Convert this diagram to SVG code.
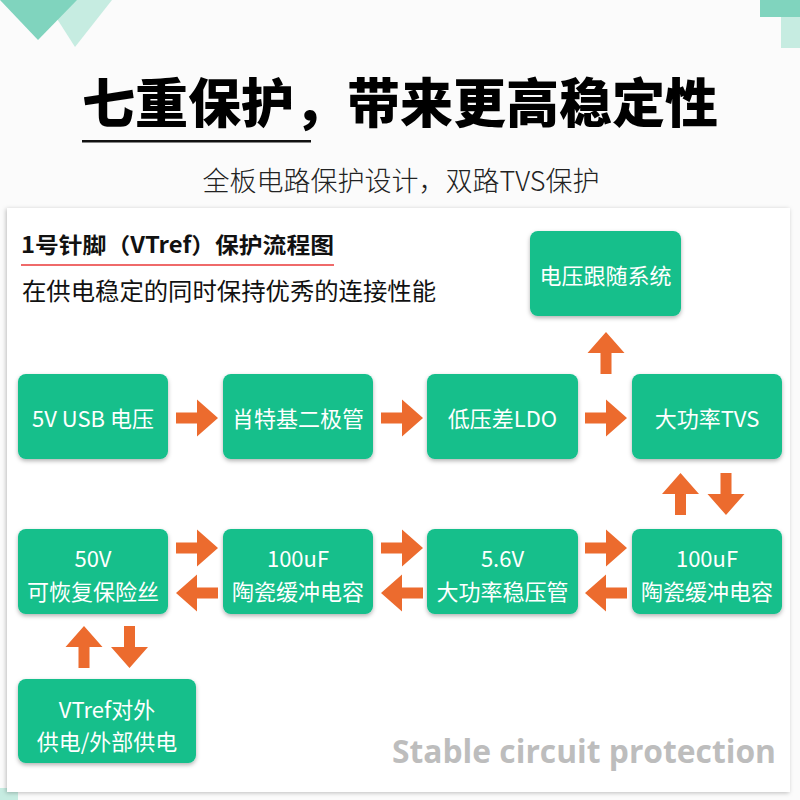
<svg xmlns="http://www.w3.org/2000/svg" width="800" height="800" viewBox="0 0 800 800">
<defs>
<style>
.node rect{fill:#12bf8b;filter:url(#sh)}
.node text{fill:#fff;font-family:"Noto Sans CJK SC","Open Sans",sans-serif;font-size:22px;text-anchor:middle;dominant-baseline:central}
.arr{fill:#ec6b2e}
</style>
<filter id="sh" x="-10%" y="-10%" width="120%" height="130%"><feDropShadow dx="0" dy="2" stdDeviation="2" flood-color="#000" flood-opacity="0.3"/></filter>
<filter id="psh" x="-5%" y="-5%" width="110%" height="110%"><feDropShadow dx="-1" dy="1" stdDeviation="2" flood-color="#000" flood-opacity="0.25"/></filter>
<path id="ar" d="M-21,-5.5H0V-18.5L21,0L0,18.5V5.5H-21Z"/>
</defs>
<rect width="800" height="800" fill="#fbfbfb"/>
<polygon points="45,0 112,0 75,47" fill="#c6ece1"/>
<polygon points="0,0 77,0 38,40" fill="#80d4be"/>
<rect x="760" y="0" width="40" height="17" fill="#80d4be"/>
<rect x="781" y="17" width="19" height="31" fill="#c6ece1"/>
<rect x="0" y="788" width="18" height="12" fill="#c6ece1"/>
<text x="400" y="100" font-family="Noto Sans CJK SC,sans-serif" font-size="53" font-weight="900" text-anchor="middle" dominant-baseline="central" fill="#000">七重保护，带来更高稳定性</text>
<rect x="82" y="140" width="229" height="2.5" fill="#111"/>
<text x="401" y="179" font-family="Noto Sans CJK SC,sans-serif" font-size="27" font-weight="300" text-anchor="middle" dominant-baseline="central" fill="#222">全板电路保护设计，双路TVS保护</text>
<rect x="7" y="208" width="783" height="584" fill="#fff" filter="url(#psh)"/>
<text x="21" y="243" font-family="Noto Sans CJK SC,sans-serif" font-size="22" font-weight="700" dominant-baseline="central" fill="#111" textLength="313" lengthAdjust="spacingAndGlyphs">1号针脚（VTref）保护流程图</text>
<rect x="21" y="264" width="313" height="2" fill="#ef6a6a"/>
<text x="22" y="289" font-family="Noto Sans CJK SC,sans-serif" font-size="24" dominant-baseline="central" fill="#111" textLength="414" lengthAdjust="spacingAndGlyphs">在供电稳定的同时保持优秀的连接性能</text>
<g id="connectors">
<use href="#ar" class="arr" transform="translate(197,418)"/>
<use href="#ar" class="arr" transform="translate(402,418)"/>
<use href="#ar" class="arr" transform="translate(606,418)"/>
<use href="#ar" class="arr" transform="translate(606,353) rotate(-90)"/>
<use href="#ar" class="arr" transform="translate(680.5,494) rotate(-90)"/>
<use href="#ar" class="arr" transform="translate(726,494) rotate(90)"/>
<use href="#ar" class="arr" transform="translate(197,548)"/>
<use href="#ar" class="arr" transform="translate(402,548)"/>
<use href="#ar" class="arr" transform="translate(606,548)"/>
<use href="#ar" class="arr" transform="translate(197,593) rotate(180)"/>
<use href="#ar" class="arr" transform="translate(402,593) rotate(180)"/>
<use href="#ar" class="arr" transform="translate(606,593) rotate(180)"/>
<use href="#ar" class="arr" transform="translate(84,647) rotate(-90)"/>
<use href="#ar" class="arr" transform="translate(129.5,647) rotate(90)"/>
</g>
<g id="n-follow" class="node"><rect x="530" y="231" width="151" height="85" rx="8"/><text x="605.5" y="274">电压跟随系统</text></g>
<g id="n-usb" class="node"><rect x="18" y="374" width="150" height="85" rx="8"/><text x="93" y="417">5V USB 电压</text></g>
<g id="n-schottky" class="node"><rect x="223" y="374" width="150" height="85" rx="8"/><text x="298" y="417">肖特基二极管</text></g>
<g id="n-ldo" class="node"><rect x="427" y="374" width="151" height="85" rx="8"/><text x="502.5" y="417">低压差LDO</text></g>
<g id="n-tvs" class="node"><rect x="632" y="374" width="150" height="85" rx="8"/><text x="707" y="417">大功率TVS</text></g>
<g id="n-fuse" class="node"><rect x="18" y="529" width="150" height="85" rx="8"/><text x="93" y="557">50V</text><text x="93" y="590">可恢复保险丝</text></g>
<g id="n-cap1" class="node"><rect x="223" y="529" width="150" height="85" rx="8"/><text x="298" y="557">100uF</text><text x="298" y="590">陶瓷缓冲电容</text></g>
<g id="n-zener" class="node"><rect x="427" y="529" width="151" height="85" rx="8"/><text x="502.5" y="557">5.6V</text><text x="502.5" y="590">大功率稳压管</text></g>
<g id="n-cap2" class="node"><rect x="632" y="529" width="150" height="85" rx="8"/><text x="707" y="557">100uF</text><text x="707" y="590">陶瓷缓冲电容</text></g>
<g id="n-vtref" class="node"><rect x="18" y="679" width="178" height="84" rx="8"/><text x="107" y="708">VTref对外</text><text x="107" y="740">供电/外部供电</text></g>
<text x="392" y="750" font-family="Open Sans,sans-serif" font-size="32" font-weight="700" dominant-baseline="central" fill="#bdbdbd" textLength="384" lengthAdjust="spacingAndGlyphs">Stable circuit protection</text>
</svg>
